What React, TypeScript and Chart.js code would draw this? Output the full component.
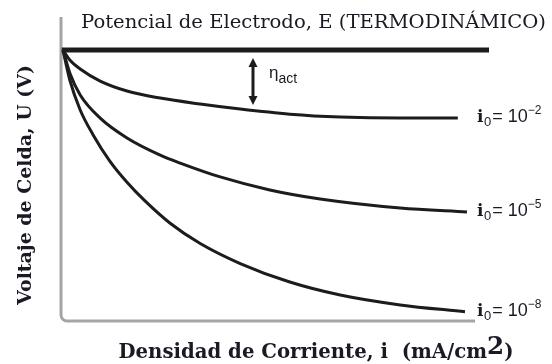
import React, { useEffect, useRef } from "react";
import { Chart, registerables } from "chart.js";

Chart.register(...registerables);

// ---- text ----
const TITLE = "Potencial de Electrodo, E (TERMODINÁMICO)";
const Y_TITLE = "Voltaje de Celda, U (V)";
const X_TITLE = "Densidad de Corriente, i  (mA/cm";
const X_TITLE_SUP = "2";
const X_TITLE_END = ")";
const ETA = "η";
const ETA_SUB = "act";

// ---- data (current density mA/cm², cell voltage V) ----
const E_X = [2, 1070];
const E_U = [1.23, 1.23];

const I0_EXPONENTS = ["−2", "−5", "−8"];

const C1_X = [5, 22, 48, 98, 165, 248, 348, 448, 572, 698, 848, 992];
const C1_U = [1.23, 1.185, 1.144, 1.089, 1.044, 1.012, 0.985, 0.962, 0.939, 0.926, 0.921, 0.921];

const C2_X = [5, 22, 48, 98, 165, 248, 298, 398, 522, 648, 848, 1015];
const C2_U = [1.23, 1.126, 1.026, 0.921, 0.831, 0.753, 0.717, 0.654, 0.595, 0.554, 0.513, 0.495];

const C3_X = [5, 22, 48, 80, 122, 165, 210, 272, 348, 448, 572, 698, 848, 1010];
const C3_U = [1.23, 1.094, 0.958, 0.846, 0.726, 0.63, 0.545, 0.445, 0.352, 0.261, 0.177, 0.118, 0.073, 0.042];

const ARROW_X = 480;
const ARROW_U = [1.194, 0.98];

const X_MAX = 1035;
const U_MAX = 1.38;

const LINE = "#1c1c1c";
const AXIS = "#a5a5a5";
const TEXT = "#1a1a24";

const pts = (xs: number[], ys: number[]) => xs.map((x, i) => ({ x, y: ys[i] }));

const overlay = {
  id: "overlay",
  beforeDatasetsDraw(chart: any) {
    const { ctx, chartArea } = chart;
    const { left, right, top, bottom } = chartArea;
    ctx.save();
    ctx.strokeStyle = AXIS;
    ctx.lineWidth = 3;
    const r = 6;
    ctx.beginPath();
    ctx.moveTo(left, top);
    ctx.lineTo(left, bottom - r);
    ctx.arcTo(left, bottom, left + r, bottom, r);
    ctx.lineTo(right, bottom);
    ctx.stroke();
    ctx.restore();
  },
  afterDatasetsDraw(chart: any) {
    const { ctx, chartArea, scales } = chart;
    const xs = scales.x;
    const ys = scales.y;
    ctx.save();
    ctx.fillStyle = TEXT;
    ctx.textBaseline = "alphabetic";

    // title: 19px, compressed horizontally to fit its span
    ctx.font = '19px "DejaVu Serif"';
    let w = ctx.measureText(TITLE).width;
    ctx.save();
    ctx.translate(81, 28);
    ctx.scale(465 / w, 1);
    ctx.textAlign = "left";
    ctx.fillText(TITLE, 0, 0);
    ctx.restore();

    // y title
    ctx.font = 'bold 20px "DejaVu Serif"';
    w = ctx.measureText(Y_TITLE).width;
    const ySize = (20 * 240) / w;
    ctx.font = `bold ${ySize}px "DejaVu Serif"`;
    ctx.save();
    ctx.translate(31, 185);
    ctx.rotate(-Math.PI / 2);
    ctx.textAlign = "center";
    ctx.fillText(Y_TITLE, 0, 0);
    ctx.restore();

    // x title
    const xs1 = ySize * 1.04;
    ctx.textAlign = "left";
    ctx.font = `bold ${xs1}px "DejaVu Serif"`;
    const w1 = ctx.measureText(X_TITLE).width;
    ctx.font = `bold ${xs1 * 1.25}px "DejaVu Serif"`;
    const w2 = ctx.measureText(X_TITLE_SUP).width;
    ctx.font = `bold ${xs1}px "DejaVu Serif"`;
    const w3 = ctx.measureText(X_TITLE_END).width;
    const x0 = 316 - (w1 + w2 + w3) / 2;
    const xb = 358;
    ctx.fillText(X_TITLE, x0, xb);
    ctx.font = `bold ${xs1 * 1.25}px "DejaVu Serif"`;
    ctx.fillText(X_TITLE_SUP, x0 + w1, xb - 4);
    ctx.font = `bold ${xs1}px "DejaVu Serif"`;
    ctx.fillText(X_TITLE_END, x0 + w1 + w2, xb);

    // curve labels
    const ends = [
      [C1_X, C1_U],
      [C2_X, C2_U],
      [C3_X, C3_U],
    ];
    ends.forEach(([cx, cu], i) => {
      const py = ys.getPixelForValue(cu[cu.length - 1]) + 4;
      let px = chartArea.right + 2;
      ctx.font = 'bold 17px "DejaVu Serif"';
      ctx.fillText("i", px, py);
      px += ctx.measureText("i").width + 0.5;
      ctx.font = '13px "Liberation Sans"';
      ctx.fillText("0", px, py + 4);
      px += ctx.measureText("0").width + 1;
      ctx.font = '18px "Liberation Sans"';
      ctx.fillText("= 10", px, py);
      px += ctx.measureText("= 10").width;
      ctx.font = '12px "Liberation Sans"';
      ctx.fillText(I0_EXPONENTS[i], px, py - 8);
    });

    // eta arrow
    const ax = xs.getPixelForValue(ARROW_X);
    const a1 = ys.getPixelForValue(ARROW_U[0]);
    const a2 = ys.getPixelForValue(ARROW_U[1]);
    ctx.strokeStyle = LINE;
    ctx.fillStyle = LINE;
    ctx.lineWidth = 3;
    ctx.beginPath();
    ctx.moveTo(ax, a1 + 6);
    ctx.lineTo(ax, a2 - 6);
    ctx.stroke();
    ctx.beginPath();
    ctx.moveTo(ax, a1);
    ctx.lineTo(ax - 4.5, a1 + 9);
    ctx.lineTo(ax + 4.5, a1 + 9);
    ctx.closePath();
    ctx.fill();
    ctx.beginPath();
    ctx.moveTo(ax, a2);
    ctx.lineTo(ax - 4.5, a2 - 9);
    ctx.lineTo(ax + 4.5, a2 - 9);
    ctx.closePath();
    ctx.fill();

    ctx.fillStyle = TEXT;
    ctx.font = '17px "Liberation Sans"';
    const ex = ax + 16;
    const eb = (a1 + a2) / 2 - 4;
    ctx.fillText(ETA, ex, eb);
    const ew = ctx.measureText(ETA).width;
    ctx.font = '14px "Liberation Sans"';
    ctx.fillText(ETA_SUB, ex + ew, eb + 5);
    ctx.restore();
  },
};

export default function App() {
  const ref = useRef<HTMLCanvasElement | null>(null);
  useEffect(() => {
    document.body.style.margin = "0";
    const ds = (xs: number[], ys: number[], width: number) => ({
      data: pts(xs, ys),
      showLine: true,
      borderColor: LINE,
      backgroundColor: LINE,
      borderWidth: width,
      pointRadius: 0,
      cubicInterpolationMode: "monotone" as const,
      clip: false as any,
      borderCapStyle: "butt" as const,
    });
    const chart = new Chart(ref.current as HTMLCanvasElement, {
      type: "scatter",
      data: {
        datasets: [
          ds(E_X, E_U, 5),
          ds(C1_X, C1_U, 3),
          ds(C2_X, C2_U, 3),
          ds(C3_X, C3_U, 3),
        ],
      },
      options: {
        animation: false,
        responsive: false,
        layout: { padding: { left: 61, top: 17, right: 77, bottom: 43 } },
        plugins: { legend: { display: false }, tooltip: { enabled: false }, title: { display: false } },
        scales: {
          x: { type: "linear", min: 0, max: X_MAX, display: false },
          y: { type: "linear", min: 0, max: U_MAX, display: false },
        },
      },
      plugins: [overlay],
    });
    return () => chart.destroy();
  }, []);
  return (
    <div style={{ width: 552, height: 364, background: "#fff" }}>
      <canvas ref={ref} width={552} height={364} />
    </div>
  );
}
